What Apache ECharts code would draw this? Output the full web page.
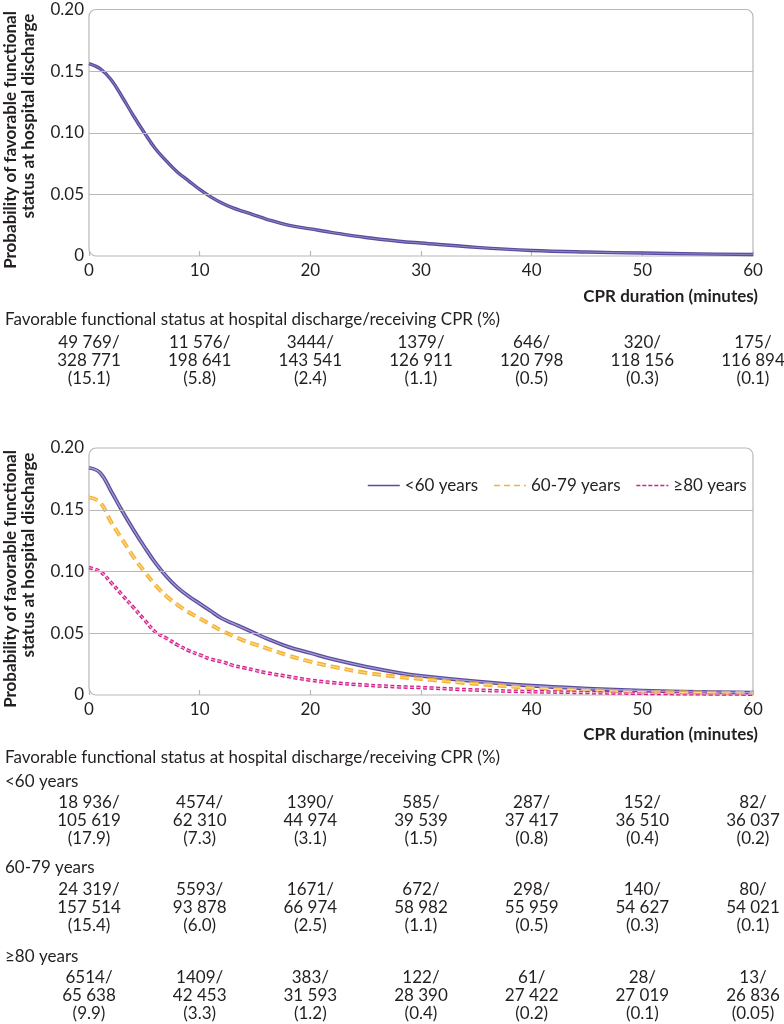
<!DOCTYPE html>
<html><head><meta charset="utf-8">
<script src="https://cdn.jsdelivr.net/npm/echarts@6/dist/echarts.min.js"></script>
<style>html,body{margin:0;padding:0;background:#fff}#c{width:784px;height:1024px}</style>
</head><body><div id="c"></div>
<script>
// ---------- data ----------
const minutes  = [0,1,2,3,4,5,6,7,8,9,10,11,12,13,14,15,16,18,20,22,25,28,30,35,40,45,50,55,60];
const overall  = [0.156,0.152,0.143,0.129,0.114,0.100,0.087,0.077,0.068,0.061,0.054,0.048,0.043,0.039,0.036,0.033,0.030,0.025,0.022,0.019,0.015,0.012,0.0105,0.007,0.0045,0.0032,0.0024,0.0017,0.0012];
const under60  = [0.184,0.180,0.165,0.149,0.134,0.120,0.107,0.096,0.087,0.080,0.074,0.068,0.062,0.058,0.054,0.050,0.046,0.039,0.034,0.029,0.023,0.018,0.0155,0.011,0.0075,0.0052,0.0035,0.0025,0.0019];
const age6079  = [0.160,0.156,0.140,0.126,0.112,0.100,0.089,0.080,0.073,0.067,0.062,0.057,0.052,0.048,0.044,0.041,0.038,0.032,0.027,0.023,0.018,0.0146,0.013,0.009,0.0058,0.004,0.0026,0.002,0.0015];
const over80   = [0.103,0.100,0.091,0.081,0.071,0.061,0.051,0.046,0.0405,0.036,0.0325,0.029,0.027,0.024,0.022,0.020,0.018,0.015,0.012,0.010,0.008,0.0066,0.006,0.004,0.0027,0.002,0.0014,0.001,0.0007];
const gridValues = [0.05,0.10,0.15];
const tableMinutes = [0,10,20,30,40,50,60];
const seriesNames = ['<60 years','60-79 years','≥80 years'];

const allFav   = ['49 769/','11 576/','3444/','1379/','646/','320/','175/'];
const allTot   = ['328 771','198 641','143 541','126 911','120 798','118 156','116 894'];
const allPct   = ['(15.1)','(5.8)','(2.4)','(1.1)','(0.5)','(0.3)','(0.1)'];
const u60Fav   = ['18 936/','4574/','1390/','585/','287/','152/','82/'];
const u60Tot   = ['105 619','62 310','44 974','39 539','37 417','36 510','36 037'];
const u60Pct   = ['(17.9)','(7.3)','(3.1)','(1.5)','(0.8)','(0.4)','(0.2)'];
const a6079Fav = ['24 319/','5593/','1671/','672/','298/','140/','80/'];
const a6079Tot = ['157 514','93 878','66 974','58 982','55 959','54 627','54 021'];
const a6079Pct = ['(15.4)','(6.0)','(2.5)','(1.1)','(0.5)','(0.3)','(0.1)'];
const o80Fav   = ['6514/','1409/','383/','122/','61/','28/','13/'];
const o80Tot   = ['65 638','42 453','31 593','28 390','27 422','27 019','26 836'];
const o80Pct   = ['(9.9)','(3.3)','(1.2)','(0.4)','(0.2)','(0.1)','(0.05)'];

const tableTitle = 'Favorable functional status at hospital discharge/receiving CPR (%)';
const xName = 'CPR duration (minutes)';
const yName1 = 'Probability of favorable functional';
const yName2 = 'status at hospital discharge';

// ---------- styling ----------
const FONT = 'Lato';
const TXT = '#231f20';
const GRID = '#b8b8b8';
const PURPLE = '#5a4c9f', PURPLE_L = '#a69dd3';
const YELLOW = '#f5b232', YELLOW_L = '#fbd88a';
const MAGENTA = '#d2208b', MAGENTA_L = '#f2a6d2';

const chart = echarts.init(document.getElementById('c'), null, {renderer:'canvas'});
const zip = arr => minutes.map((m,i)=>[m,arr[i]]);

function band(name, data, idx, color, light, width, dash, inner) {
  const base = {type:'line', xAxisIndex:idx, yAxisIndex:idx, data:zip(data), showSymbol:false, symbol:'none',
    smooth:0.4, silent:true, animation:false};
  const outer = Object.assign({}, base, {name:name, z:3,
    lineStyle:{color:color, width:width, type:dash || 'solid', cap:'butt', join:'round'}, itemStyle:{color:color}});
  const inn = Object.assign({}, base, {name:name+' ci', z:4,
    lineStyle:{color:light, width:inner, type:dash || 'solid', cap:'butt', join:'round'}, itemStyle:{color:light}});
  return [outer, inn];
}
function gridLines(idx) {
  return {type:'line', xAxisIndex:idx, yAxisIndex:idx, data:[], silent:true, z:1,
    markLine:{silent:true, symbol:['none','none'], label:{show:false}, animation:false,
      lineStyle:{color:GRID, width:1.2, type:'solid'},
      data: gridValues.map(v=>({yAxis:v}))}};
}
const xAx = idx => ({type:'value', gridIndex:idx, min:0, max:60, interval:10,
  axisLine:{show:false}, splitLine:{show:false},
  axisTick:{show:true, inside:true, length:5, lineStyle:{color:GRID, width:1.2}},
  axisLabel:{fontFamily:FONT, fontSize:17, color:TXT, margin:6}});
const yAx = idx => ({type:'value', gridIndex:idx, min:0, max:0.2, interval:0.05,
  axisLine:{show:false}, axisTick:{show:false}, splitLine:{show:false},
  axisLabel:{fontFamily:FONT, fontSize:17, color:TXT, margin:5,
    formatter:v=> v===0 ? '0' : v.toFixed(2)}});

const hideSym = {opacity:0, color:'transparent', borderWidth:0};
const option = {
  animation:false,
  backgroundColor:'#fff',
  grid:[{left:89, top:9.5, width:664, height:246.5},
        {left:89, top:448, width:664, height:247}],
  xAxis:[xAx(0), xAx(1)],
  yAxis:[yAx(0), yAx(1)],
  legend:{left:362, top:472, itemGap:15, itemWidth:32, itemHeight:10,
    itemStyle:hideSym,
    textStyle:{fontFamily:FONT, fontSize:17, color:TXT},
    data:[
      {name:seriesNames[0], itemStyle:hideSym, lineStyle:{width:1.6, color:PURPLE, type:'solid'}},
      {name:seriesNames[1], itemStyle:hideSym, lineStyle:{width:1.6, color:YELLOW, type:[6,4]}},
      {name:seriesNames[2], itemStyle:hideSym, lineStyle:{width:1.6, color:MAGENTA, type:[4,2]}}
    ]},
  series:[
    gridLines(0), gridLines(1),
    ...band('Overall', overall, 0, PURPLE, PURPLE_L, 3.4, null, 0.7),
    ...band(seriesNames[0], under60, 1, PURPLE, PURPLE_L, 3.8, null, 1.3),
    ...band(seriesNames[1], age6079, 1, YELLOW, YELLOW_L, 4, [9,5], 1.2),
    ...band(seriesNames[2], over80, 1, MAGENTA, MAGENTA_L, 3.6, [4,2.5], 1.1)
  ]
};
chart.setOption(option);

// ---------- frame + texts (positioned via the axes) ----------
const g = [];
function frame(idx) {
  const tl = chart.convertToPixel({gridIndex:idx}, [0,0.2]);
  const br = chart.convertToPixel({gridIndex:idx}, [60,0]);
  g.push({type:'rect', z:0, silent:true,
    shape:{x:tl[0], y:tl[1], width:br[0]-tl[0], height:br[1]-tl[1], r:[7,7,0,7]},
    style:{fill:'none', stroke:GRID, lineWidth:1.2}});
}
frame(0); frame(1);

function txt(text, x, y, opts) {
  g.push({type:'text', x:x, y:y, z:10, silent:true, rotation:(opts&&opts.rot)||0,
    style:Object.assign({text:text, fontFamily:FONT, fontSize:17, fill:TXT,
      align:'left', verticalAlign:'middle'}, opts&&opts.style||{})});
}
function yLabel(yOff) {
  txt(yName1, 11, 140+yOff, {rot:Math.PI/2, style:{fontSize:17, fontWeight:'bold', align:'center'}});
  txt(yName2, 29, 116+yOff, {rot:Math.PI/2, style:{fontSize:17, fontWeight:'bold', align:'center'}});
}
yLabel(0); yLabel(439);
txt(xName, 758, 297, {style:{fontSize:17, fontWeight:'bold', align:'right'}});
txt(xName, 758, 735, {style:{fontSize:17, fontWeight:'bold', align:'right'}});

const colX = tableMinutes.map(m => chart.convertToPixel({xAxisIndex:0}, m));
function rows(fav, tot, pct, y0) {
  [fav, tot, pct].forEach((arr, r) => {
    arr.forEach((s, i) => txt(s, colX[i], y0 + r*18, {style:{align:'center'}}));
  });
}
txt(tableTitle, 5, 320);
rows(allFav, allTot, allPct, 343);
txt(tableTitle, 5, 758);
txt(seriesNames[0], 5, 782);
rows(u60Fav, u60Tot, u60Pct, 803);
txt(seriesNames[1], 5, 868);
rows(a6079Fav, a6079Tot, a6079Pct, 890);
txt(seriesNames[2], 5, 957);
rows(o80Fav, o80Tot, o80Pct, 978);

chart.setOption({graphic:g});
</script></body></html>
